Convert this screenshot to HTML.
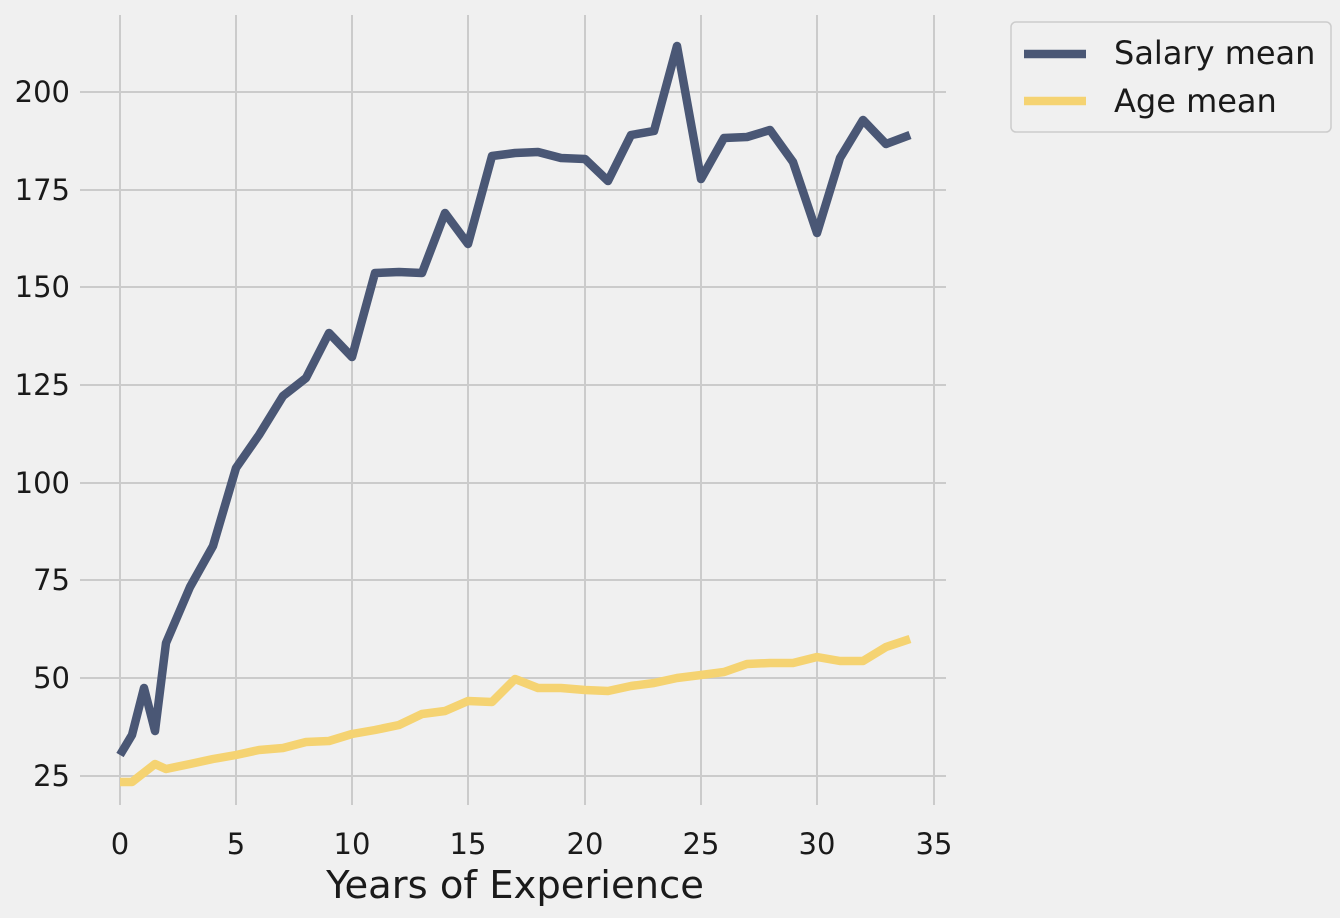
<!DOCTYPE html>
<html><head><meta charset="utf-8"><style>
html,body{margin:0;padding:0;background:#f0f0f0;}
svg{display:block;font-family:"DejaVu Sans","Liberation Sans",sans-serif;}
</style></head><body>
<svg width="1340" height="918" viewBox="0 0 1340 918">
<rect width="1340" height="918" fill="#f0f0f0"/>
<g stroke="#cbcbcb" stroke-width="2">
<line x1="120" y1="15" x2="120" y2="805"/><line x1="236" y1="15" x2="236" y2="805"/>
<line x1="352" y1="15" x2="352" y2="805"/><line x1="468" y1="15" x2="468" y2="805"/>
<line x1="585" y1="15" x2="585" y2="805"/><line x1="701" y1="15" x2="701" y2="805"/>
<line x1="817" y1="15" x2="817" y2="805"/><line x1="934" y1="15" x2="934" y2="805"/>
<line x1="80" y1="92" x2="946" y2="92"/><line x1="80" y1="190" x2="946" y2="190"/>
<line x1="80" y1="287" x2="946" y2="287"/><line x1="80" y1="385" x2="946" y2="385"/>
<line x1="80" y1="483" x2="946" y2="483"/><line x1="80" y1="580" x2="946" y2="580"/>
<line x1="80" y1="678" x2="946" y2="678"/><line x1="80" y1="776" x2="946" y2="776"/>
</g>
<g font-size="29" fill="#1a1a1a" text-anchor="end">
<text x="70" y="102">200</text><text x="70" y="200">175</text><text x="70" y="297">150</text>
<text x="70" y="395">125</text><text x="70" y="493">100</text><text x="70" y="590">75</text>
<text x="70" y="688">50</text><text x="70" y="786">25</text>
</g>
<g font-size="29" fill="#1a1a1a" text-anchor="middle">
<text x="120" y="854">0</text><text x="236" y="854">5</text><text x="352" y="854">10</text>
<text x="468" y="854">15</text><text x="585" y="854">20</text><text x="701" y="854">25</text>
<text x="817" y="854">30</text><text x="934" y="854">35</text>
</g>
<text x="515" y="898" font-size="38.5" fill="#1a1a1a" text-anchor="middle">Years of Experience</text>
<polyline fill="none" stroke="#f5d372" stroke-width="8.5" stroke-linejoin="round" points="120,782 132,782 155,764 166,769 190,764 213,759 236,755 259,750 283,748 306,742 329,741 352,734 375,730 399,725 422,714 445,711 468,701 492,702 515,679 538,688 561,688 585,690 608,691 631,686 654,683 677,678 701,675 724,672 747,664 770,663 793,663 817,657 840,661 863,661 886,647 910,639"/>
<polyline fill="none" stroke="#4a5775" stroke-width="8.5" stroke-linejoin="round" points="120,755 132,735 144,688 155,731 166,643 190,587 213,546 236,468 259,435 283,396 306,378 329,333 352,357 375,273 399,272 422,273 445,213 468,244 492,156 515,153 538,152 561,158 585,159 608,181 631,135 654,131 677,46 701,179 724,138 747,137 770,130 793,162 817,233 840,158 863,120 886,144 910,135"/>
<rect x="1011" y="22" width="320" height="110" rx="5" fill="#f0f0f0" stroke="#cccccc" stroke-width="1.5"/>
<line x1="1024" y1="54" x2="1086" y2="54" stroke="#4a5775" stroke-width="8.5"/>
<line x1="1024" y1="101" x2="1086" y2="101" stroke="#f5d372" stroke-width="8.5"/>
<text x="1114" y="64" font-size="32" fill="#1a1a1a">Salary mean</text>
<text x="1114" y="112" font-size="32" fill="#1a1a1a">Age mean</text>
</svg>
</body></html>
